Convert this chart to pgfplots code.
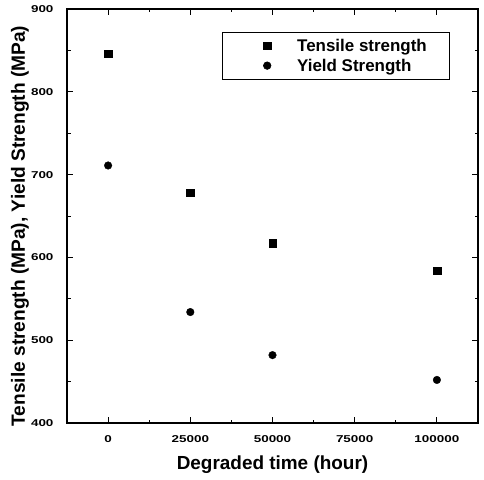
\documentclass[border=0pt]{standalone}
\usepackage{fontspec}
\setmainfont{Liberation Sans}
\newfontfamily\tickfont[FakeStretch=1.35]{Liberation Sans}
\usepackage{pgfplots}
\pgfplotsset{compat=1.18}
\begin{document}
\begin{tikzpicture}
\path (-67bp,-57bp) rectangle (417bp,423bp);
\begin{axis}[
  at={(0,0)}, anchor=south west,
  scale only axis,
  width=411bp, height=414bp,
  xmin=-12500, xmax=112500,
  ymin=400, ymax=900,
  xtick={0,25000,50000,75000,100000},
  xticklabels={0,25000,50000,75000,100000},
  ytick={400,500,600,700,800,900},
  minor x tick num=1,
  minor y tick num=1,
  tick pos=both,
  tick align=inside,
  major tick length=6bp,
  minor tick length=3.5bp,
  every tick/.style={black, line width=1pt},
  axis line style={line width=1.1pt},
  scaled x ticks=false,
  /pgf/number format/assume math mode=true,
  tick label style={font=\tickfont\fontsize{10}{12}\selectfont\bfseries},
  xticklabel style={yshift=-9bp},
  yticklabel style={xshift=-10bp},
  xlabel={Degraded time (hour)},
  ylabel={Tensile strength (MPa), Yield Strength (MPa)},
  every axis x label/.style={at={(axis description cs:0.5,0)}, anchor=center, yshift=-42bp,
    font=\fontsize{19}{21}\selectfont\bfseries},
  every axis y label/.style={at={(axis description cs:0,0.5)}, xshift=-47bp, yshift=-10bp, rotate=90, anchor=center,
    font=\fontsize{19.2}{21}\selectfont\bfseries},
  legend style={at={(0.932,0.944)}, anchor=north east, draw=black, line width=0.6pt,
    font=\fontsize{17}{19}\selectfont\bfseries, inner xsep=0bp, inner ysep=6.5bp,
    nodes={inner sep=0pt}, row sep=6bp},
  legend cell align=left,
  legend image code/.code={\path[draw=none,fill=none] (0bp,-6bp) rectangle (75bp,6bp); \draw[#1] plot coordinates {(45bp,0bp)};},
]
\addplot[only marks, mark=square*, mark size=3.8bp, black] coordinates {
 (0,846) (25000,678) (50000,617) (100000,584)};
\addlegendentry{Tensile strength\hspace*{23bp}}
\addplot[only marks, mark=*, mark size=3.8bp, black] coordinates {
 (0,711) (25000,534) (50000,482) (100000,452)};
\addlegendentry{Yield Strength\hspace*{23bp}}
\end{axis}
\end{tikzpicture}
\end{document}
